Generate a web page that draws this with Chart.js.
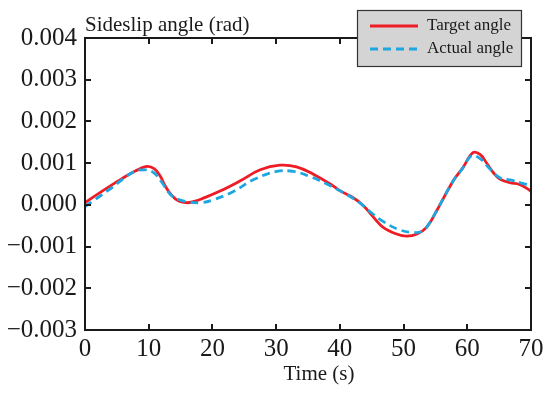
<!DOCTYPE html>
<html>
<head>
<meta charset="utf-8">
<script src="https://cdn.jsdelivr.net/npm/chart.js@4"></script>
<style>
  html, body { margin: 0; padding: 0; background: #ffffff; }
  #c { display: block; }
</style>
</head>
<body>
<canvas id="c" width="550" height="394"></canvas>
<script>
// ---- data ----
const yAxisTitle = "Sideslip angle (rad)";
const xAxisTitle = "Time (s)";
const seriesNames = ["Target angle", "Actual angle"];

const xTicks = [0, 10, 20, 30, 40, 50, 60, 70];
const yTicks = [-0.003, -0.002, -0.001, 0.000, 0.001, 0.002, 0.003, 0.004];

const targetTime = [0, 2.7, 5.8, 7.9, 9.7, 10.9, 11.8, 12.6, 13.6, 14.7, 16.0, 17.3, 18.4, 21.2, 24.3, 27.5, 30.6, 33.2, 35.9, 38.5, 40.0, 42.1, 43.7, 45.3, 46.8, 48.9, 50.5, 52.1, 53.6, 55.2, 57.8, 59.3, 60.9, 62.0, 63.0, 64.1, 65.1, 66.7, 68.2, 69.8, 70];
const targetAngle = [0.00005, 0.00033, 0.00063, 0.00081, 0.00092, 0.00086, 0.00069, 0.00045, 0.00023, 0.00009, 0.00005, 0.00009, 0.00015, 0.00033, 0.00057, 0.00084, 0.00095, 0.00091, 0.00073, 0.0005, 0.00034, 0.00017, -0.00002, -0.0003, -0.00054, -0.0007, -0.00075, -0.0007, -0.00054, -0.00014, 0.00058, 0.00089, 0.00125, 0.00121, 0.00101, 0.00077, 0.00062, 0.00053, 0.00049, 0.00035, 0.00032];

const actualTime = [0, 1.6, 4.2, 7.4, 9.2, 10.8, 12.1, 13.4, 14.7, 16.3, 18.1, 20.1, 23.3, 26.4, 30.1, 32.7, 35.3, 38.2, 41.6, 43.2, 44.7, 46.8, 49.4, 51.5, 52.9, 53.6, 55.2, 57.8, 59.3, 60.6, 62.0, 63.5, 65.1, 66.7, 68.8, 70];
const actualAngle = [-0.00004, 0.00013, 0.00041, 0.00077, 0.00084, 0.00077, 0.00053, 0.00025, 0.00013, 0.00007, 0.00005, 0.00012, 0.00032, 0.0006, 0.0008, 0.0008, 0.00068, 0.00048, 0.0002, 0.00004, -0.00016, -0.0004, -0.0006, -0.00066, -0.00064, -0.00054, -0.00014, 0.00058, 0.00088, 0.00117, 0.00111, 0.00087, 0.00065, 0.0006, 0.00051, 0.00047];

// ---- styling ----
const FONT = "'Liberation Serif', 'Times New Roman', serif";
const RED = "#ee1c24";
const BLUE = "#1ea6e1";
const INK = "#1a1a1a";

const toPts = (xs, ys) => xs.map((x, i) => ({ x: x, y: ys[i] }));
const fmtY = v => (Math.abs(v) < 1e-12 ? "0.000" : v.toFixed(3).replace("-", "\u2212"));

const framePlugin = {
  id: "frame",
  afterDraw(chart) {
    const ctx = chart.ctx;
    const a = chart.chartArea;
    const xs = chart.scales.x, ys = chart.scales.y;
    ctx.save();
    // frame
    ctx.strokeStyle = INK;
    ctx.lineWidth = 2;
    ctx.strokeRect(a.left, a.top, a.right - a.left, a.bottom - a.top);
    // inward ticks on all four sides
    const tl = 6;
    ctx.beginPath();
    xTicks.forEach(t => {
      const px = Math.round(xs.getPixelForValue(t));
      ctx.moveTo(px, a.bottom); ctx.lineTo(px, a.bottom - tl);
      ctx.moveTo(px, a.top); ctx.lineTo(px, a.top + tl);
    });
    yTicks.forEach(t => {
      const py = Math.round(ys.getPixelForValue(t));
      ctx.moveTo(a.left, py); ctx.lineTo(a.left + tl, py);
      ctx.moveTo(a.right, py); ctx.lineTo(a.right - tl, py);
    });
    ctx.stroke();

    // titles
    ctx.fillStyle = INK;
    ctx.font = "21px " + FONT;
    ctx.textAlign = "left";
    ctx.textBaseline = "alphabetic";
    ctx.fillText(yAxisTitle, a.left, 31);
    ctx.textAlign = "center";
    ctx.fillText(xAxisTitle, 319, 380);

    // legend box
    const bx = 357, by = 10, bw = 165, bh = 57;
    ctx.fillStyle = "#d4d4d4";
    ctx.fillRect(bx, by, bw, bh);
    ctx.strokeStyle = "#333333";
    ctx.lineWidth = 1.2;
    ctx.strokeRect(bx + 0.5, by + 0.5, bw - 1, bh - 1);
    const rows = [26, 49];
    chart.data.datasets.forEach((ds, i) => {
      const y = rows[i];
      ctx.beginPath();
      ctx.strokeStyle = ds.borderColor;
      ctx.lineWidth = ds.borderWidth;
      ctx.setLineDash(ds.borderDash || []);
      ctx.moveTo(370, y); ctx.lineTo(418, y);
      ctx.stroke();
      ctx.setLineDash([]);
      ctx.fillStyle = INK;
      ctx.font = "17px " + FONT;
      ctx.textAlign = "left";
      ctx.textBaseline = "middle";
      ctx.fillText(ds.label, 427, y);
    });
    ctx.restore();
  }
};

new Chart(document.getElementById("c"), {
  type: "line",
  data: {
    datasets: [
      {
        label: seriesNames[0],
        data: toPts(targetTime, targetAngle),
        borderColor: RED,
        borderWidth: 2.8,
        pointRadius: 0,
        fill: false,
        tension: 0.4,
        order: 2
      },
      {
        label: seriesNames[1],
        data: toPts(actualTime, actualAngle),
        borderColor: BLUE,
        borderWidth: 2.8,
        borderDash: [8, 5],
        pointRadius: 0,
        fill: false,
        tension: 0.4,
        order: 1
      }
    ]
  },
  options: {
    responsive: false,
    animation: false,
    devicePixelRatio: 1,
    layout: { padding: { top: 38, right: 19, left: 0, bottom: 0 } },
    plugins: {
      legend: { display: false },
      title: { display: false },
      tooltip: { enabled: false }
    },
    scales: {
      x: {
        type: "linear",
        min: 0,
        max: 70,
        afterFit(s) { s.height = 64; },
        afterBuildTicks(s) { s.ticks = xTicks.map(v => ({ value: v })); },
        grid: { display: false, drawTicks: false },
        border: { display: false },
        ticks: {
          color: INK,
          font: { family: FONT, size: 25 },
          padding: 4,
          maxRotation: 0,
          callback: v => String(v)
        }
      },
      y: {
        type: "linear",
        min: -0.003,
        max: 0.004,
        afterFit(s) { s.width = 85; },
        afterBuildTicks(s) { s.ticks = yTicks.map(v => ({ value: v })); },
        grid: { display: false, drawTicks: false },
        border: { display: false },
        ticks: {
          color: INK,
          font: { family: FONT, size: 25 },
          padding: 8,
          callback: v => fmtY(v)
        }
      }
    }
  },
  plugins: [framePlugin]
});
</script>
</body>
</html>
